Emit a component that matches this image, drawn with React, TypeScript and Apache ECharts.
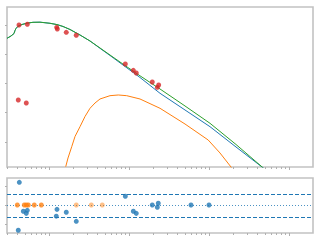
import { useEffect, useRef } from "react";
import * as echarts from "echarts";

// log10 wavelength / log10 flux readings
const obsLogX = [-0.375, -0.271, 0.096, 0.104, 0.216, 0.341, 0.954, 1.054, 1.091, 1.291, 1.354, 1.371, -0.384, -0.284];
const obsLogY = [0.0, 0.024, -0.079, -0.137, -0.25, -0.352, -1.333, -1.549, -1.641, -1.949, -2.13, -2.051, -2.564, -2.667];

const totalLogX = [-0.525, -0.475, -0.4375, -0.425, -0.4125, -0.3875, -0.3375, -0.275, -0.2, -0.1125, 0.0125, 0.1, 0.175, 0.2625, 0.3875, 0.5125, 0.6375, 0.7625, 0.95, 1.1375, 1.3875, 1.7, 2.0125, 2.3375, 2.65, 2.7625];
const totalLogY = [-0.455, -0.376, -0.291, -0.188, -0.12, -0.044, 0.017, 0.062, 0.092, 0.096, 0.058, 0.014, -0.051, -0.154, -0.342, -0.547, -0.786, -1.026, -1.385, -1.737, -2.188, -2.769, -3.361, -4.085, -4.821, -5.09];

const starLogX = [-0.525, -0.475, -0.4375, -0.425, -0.4125, -0.3875, -0.3375, -0.275, -0.2, -0.1125, 0.0125, 0.1, 0.175, 0.2625, 0.3875, 0.5125, 0.6375, 0.7625, 0.95, 1.1375, 1.3875, 1.7, 2.0125, 2.3375, 2.6625, 2.7625];
const starLogY = [-0.455, -0.376, -0.291, -0.188, -0.12, -0.044, 0.017, 0.062, 0.092, 0.096, 0.058, 0.014, -0.051, -0.154, -0.342, -0.547, -0.797, -1.043, -1.419, -1.795, -2.335, -2.906, -3.477, -4.171, -4.855, -5.06];

const dustLogX = [0.209, 0.2375, 0.284, 0.325, 0.3875, 0.45, 0.5125, 0.575, 0.6375, 0.7625, 0.866, 0.971, 1.1375, 1.3875, 1.7, 1.99, 2.1375, 2.275, 2.3375];
const dustLogY = [-4.844, -4.547, -4.161, -3.812, -3.477, -3.128, -2.848, -2.667, -2.53, -2.417, -2.393, -2.417, -2.53, -2.848, -3.385, -3.932, -4.376, -4.855, -5.094];

const resLogX = [-0.371, -0.384, -0.321, -0.284, -0.271, 0.1, 0.091, 0.216, 0.341, 0.954, 1.054, 1.091, 1.291, 1.366, 1.354, 1.775, 2.0];
const resVal = [1.195, -1.33, -0.33, -0.44, -0.28, -0.23, -0.59, -0.38, -0.86, 0.46, -0.33, -0.44, 0, 0.09, -0.12, 0, 0];

const limLogX = [-0.396, -0.309, -0.284, -0.259, -0.184, -0.096];
const limVal = [0, 0, 0, 0, 0, 0];
const limFaintLogX = [0.341, 0.529, 0.666];
const limFaintVal = [0, 0, 0];

const majorX = [0, 1, 2, 3];
const minorX: number[] = [];
for (let d = -1; d <= 3; d++) {
  for (let m = 2; m <= 9; m++) {
    const v = d + Math.log10(m);
    if (v > -0.525 && v < 3.3) minorX.push(v);
  }
}
const fluxTicks = [0, -1, -2, -3, -4];
const resTicks = [1, 0, -1];
const sigmaUpper = 0.58;
const sigmaLower = -0.64;

const zip = (a: number[], b: number[]) => a.map((v, i) => [v, b[i]]);

export default function App() {
  const ref = useRef<HTMLDivElement>(null);
  useEffect(() => {
    if (!ref.current) return;
    const chart = echarts.init(ref.current, undefined, { renderer: "svg" });
    const spine = "#c2c2c2";
    const xMin = -0.525, xMax = 3.3;
    const mkX = (grid: number, ticks: number[], len: number) => ({
      type: "value" as const,
      gridIndex: grid,
      min: xMin,
      max: xMax,
      position: "bottom" as const,
      axisLine: { show: false, onZero: false },
      splitLine: { show: false },
      axisLabel: { show: false },
      axisTick: { show: true, length: len, customValues: ticks, lineStyle: { color: "#b0b0b0", width: 1 } },
    });
    chart.setOption({
      animation: false,
      backgroundColor: "#ffffff",
      grid: [
        { left: 7, right: 7, top: 7, height: 160, show: true, borderColor: spine, borderWidth: 1.6, backgroundColor: "transparent" },
        { left: 7, right: 7, top: 178, height: 55, show: true, borderColor: spine, borderWidth: 1.6, backgroundColor: "transparent" },
      ],
      xAxis: [mkX(0, majorX, 3), mkX(0, minorX, 2), mkX(1, majorX, 3), mkX(1, minorX, 2)],
      yAxis: [
        {
          type: "value", gridIndex: 0, min: -4.855, max: 0.615, position: "left",
          axisLine: { show: false, onZero: false }, splitLine: { show: false }, axisLabel: { show: false },
          axisTick: { show: true, length: 2, customValues: fluxTicks, lineStyle: { color: "#b0b0b0" } },
        },
        {
          type: "value", gridIndex: 1, min: -1.474, max: 1.421, position: "left",
          axisLine: { show: false, onZero: false }, splitLine: { show: false }, axisLabel: { show: false },
          axisTick: { show: true, length: 2, customValues: resTicks, lineStyle: { color: "#b0b0b0" } },
        },
      ],
      series: [
        { type: "line", xAxisIndex: 0, yAxisIndex: 0, data: zip(starLogX, starLogY), showSymbol: false, lineStyle: { color: "#1f77b4", width: 1 }, z: 2 },
        { type: "line", xAxisIndex: 0, yAxisIndex: 0, data: zip(dustLogX, dustLogY), showSymbol: false, lineStyle: { color: "#ff7f0e", width: 1 }, z: 3 },
        { type: "line", xAxisIndex: 0, yAxisIndex: 0, data: zip(totalLogX, totalLogY), showSymbol: false, lineStyle: { color: "#2ca02c", width: 1 }, z: 4 },
        { type: "scatter", xAxisIndex: 0, yAxisIndex: 0, data: zip(obsLogX, obsLogY), symbolSize: 5, itemStyle: { color: "#d62728" }, z: 5 },
        {
          type: "line", xAxisIndex: 2, yAxisIndex: 1, data: [], showSymbol: false,
          markLine: {
            symbol: "none", silent: true, label: { show: false },
            data: [
              { yAxis: sigmaUpper, lineStyle: { color: "#1f77b4", type: [4, 2], width: 1 } },
              { yAxis: 0, lineStyle: { color: "#1f77b4", type: [1, 2], width: 1, opacity: 0.8 } },
              { yAxis: sigmaLower, lineStyle: { color: "#1f77b4", type: [4, 2], width: 1 } },
            ],
          },
        },
        { type: "scatter", xAxisIndex: 2, yAxisIndex: 1, data: zip(limLogX, limVal), symbolSize: 5, itemStyle: { color: "#ff7f0e" }, z: 5 },
        { type: "scatter", xAxisIndex: 2, yAxisIndex: 1, data: zip(limFaintLogX, limFaintVal), symbolSize: 5, itemStyle: { color: "#ff7f0e", opacity: 0.5 }, z: 5 },
        { type: "scatter", xAxisIndex: 2, yAxisIndex: 1, data: zip(resLogX, resVal), symbolSize: 5, itemStyle: { color: "#1f77b4" }, z: 6 },
      ],
    });
    return () => chart.dispose();
  }, []);
  return <div ref={ref} style={{ position: "fixed", left: 0, top: 0, width: 320, height: 240, background: "#fff" }} />;
}
